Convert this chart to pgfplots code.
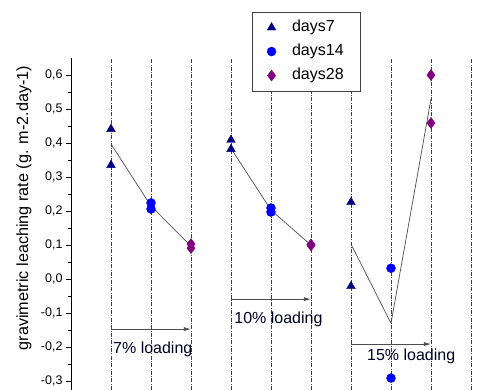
\documentclass[border=0pt]{standalone}
\usepackage{pgfplots}
\pgfplotsset{compat=1.18}
\usepackage{fontspec}
\setmainfont{Liberation Sans}
\usetikzlibrary{arrows.meta}
\definecolor{navyc}{RGB}{0,0,128}
\definecolor{bluec}{RGB}{0,0,255}
\definecolor{purplec}{RGB}{128,0,128}
\begin{document}
\begin{tikzpicture}
\begin{axis}[
  at={(0,0)}, anchor=south west,
  scale only axis, width=412pt, height=332pt,
  xmin=0, xmax=10.3, ymin=-0.326, ymax=0.65,
  axis x line=none, axis y line*=left,
  y axis line style={line width=0.9pt},
  ytick={-0.3,-0.2,-0.1,0,0.1,0.2,0.3,0.4,0.5,0.6},
  minor y tick num=1,
  tick align=outside, major tick length=5pt, minor tick length=3pt,
  every tick/.style={line width=0.9pt, black},
  yticklabel style={font=\fontsize{12.5}{14}\selectfont, /pgf/number format/.cd, use comma, fixed, fixed zerofill, precision=1, assume math mode=true},
  ylabel={gravimetric leaching rate (g. m-2.day-1)},
  ylabel style={at={(axis description cs:-0.114,0.548)}, anchor=center, font=\fontsize{16.2}{18}\selectfont},
  clip=false,
  legend style={at={(axis description cs:0.439,1.139)}, anchor=north west, draw=black!75, fill=white,
    font=\fontsize{16}{19}\selectfont, inner xsep=15pt, inner ysep=6pt, row sep=5pt,
    nodes={text height=11.5pt, text depth=3.5pt, inner ysep=2pt},
    /tikz/every odd column/.append style={column sep=14pt}},
  legend cell align=left,
]
\pgfplotsinvokeforeach{1,...,10}{
  \draw[black!75, line width=0.5pt, dash pattern=on 4pt off 1.5pt on 0.6pt off 1.5pt] (axis cs:#1,-0.326) -- (axis cs:#1,0.65);
}
\addplot[only marks, mark=triangle*, mark size=5pt, color=navyc] coordinates {
  (1,0.441) (1,0.335) (4,0.409) (4,0.382) (7,0.226) (7,-0.021)};
\addlegendentry{days7}
\addplot[only marks, mark=*, mark size=4.5pt, color=bluec] coordinates {
  (2,0.224) (2,0.206) (5,0.209) (5,0.197) (8,0.032) (8,-0.291)};
\addlegendentry{days14}
\addplot[only marks, mark=diamond*, mark size=5.5pt, color=purplec] coordinates {
  (3,0.103) (3,0.091) (6,0.102) (6,0.099) (9,0.600) (9,0.459)};
\addlegendentry{days28}
\addplot[black!70, line width=0.7pt, forget plot] coordinates {(1,0.397) (2,0.215) (3,0.097)};
\addplot[black!70, line width=0.7pt, forget plot] coordinates {(4,0.384) (5,0.203) (6,0.100)};
\addplot[black!70, line width=0.7pt, forget plot] coordinates {(7,0.103) (8,-0.130) (9,0.530)};
\draw[-{Latex[length=7pt,width=4pt]}, black!70, line width=0.7pt] (axis cs:1,-0.147) -- (axis cs:3,-0.147);
\draw[-{Latex[length=7pt,width=4pt]}, black!70, line width=0.7pt] (axis cs:4,-0.059) -- (axis cs:6,-0.059);
\draw[-{Latex[length=7pt,width=4pt]}, black!70, line width=0.7pt] (axis cs:7,-0.191) -- (axis cs:9,-0.191);
\node[anchor=west, inner sep=0pt, font=\fontsize{16}{19}\selectfont, text=black!85!blue] at (axis cs:1.05,-0.206) {7\% loading};
\node[anchor=west, inner sep=0pt, font=\fontsize{16}{19}\selectfont, text=black!85!blue] at (axis cs:4.08,-0.118) {10\% loading};
\node[anchor=west, inner sep=0pt, font=\fontsize{16}{19}\selectfont, text=black!85!blue] at (axis cs:7.4,-0.226) {15\% loading};
\end{axis}
\pgfresetboundingbox
\useasboundingbox (-71pt,0pt) rectangle (412pt,390pt);
\end{tikzpicture}
\end{document}
